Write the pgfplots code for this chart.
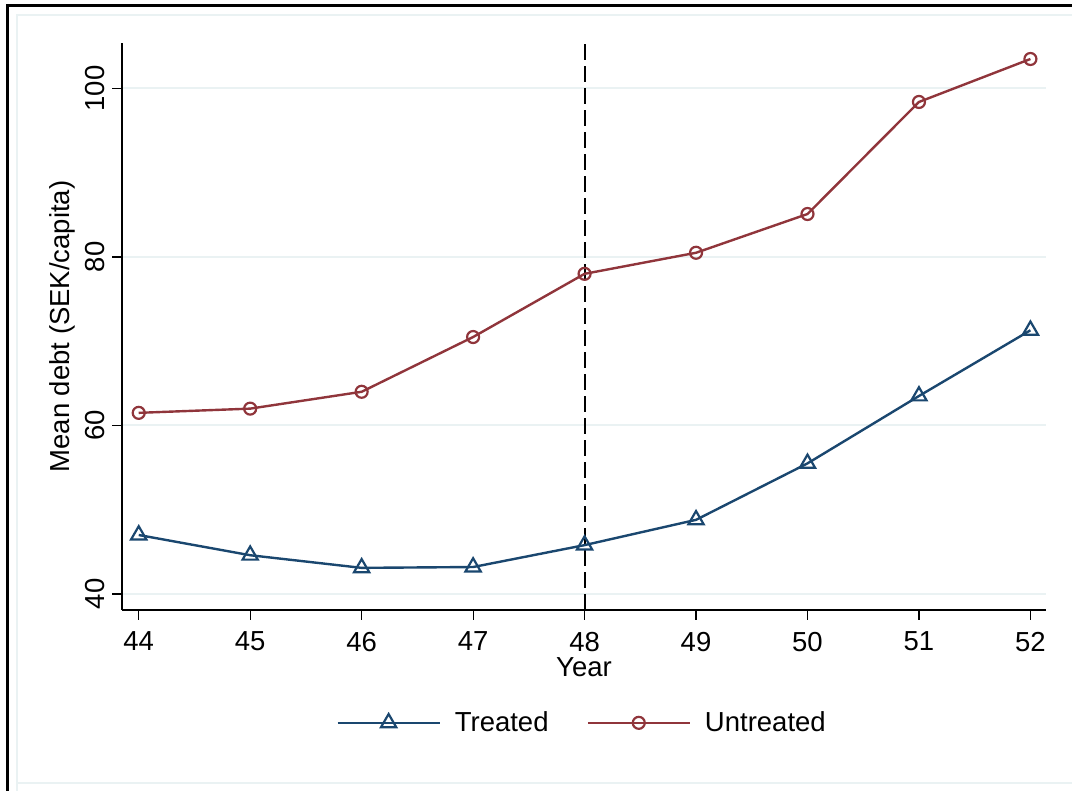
\documentclass[border=0pt]{standalone}
\usepackage{pgfplots}
\pgfplotsset{compat=1.18}
\usepackage{fontspec}
\setmainfont{Liberation Sans}
\definecolor{stnavy}{RGB}{26,71,111}
\definecolor{stmaroon}{RGB}{144,53,59}
\definecolor{stgrid}{RGB}{234,242,243}
\begin{document}
\begin{tikzpicture}[font=\fontsize{13.75}{16}\selectfont]
\useasboundingbox (0,0) rectangle (536pt,395.5pt);
\clip (0,0) rectangle (536pt,395.5pt);
\draw[stgrid, line width=1pt] (8.5pt,-5pt) -- (8.5pt,388pt) -- (545pt,388pt);
\draw[stgrid, line width=1pt] (8.5pt,4pt) -- (545pt,4pt);
\draw[black, line width=1.5pt] (3.5pt,-5pt) -- (3.5pt,392.75pt) -- (545pt,392.75pt);
\begin{axis}[
  at={(61pt,90.5pt)}, anchor=south west,
  scale only axis, width=462pt, height=283.5pt,
  xmin=43.85, xmax=52.14, ymin=38.1, ymax=105.4,
  axis lines*=left,
  axis line style={line width=0.6pt},
  xtick={44,45,...,52}, ytick={40,60,80,100},
  tick align=outside, major tick length=5pt,
  tick style={line width=0.6pt, black},
  xtick pos=bottom, ytick pos=left,
  ymajorgrids, grid style={stgrid, line width=1pt},
  /pgf/number format/assume math mode=true,
  tick label style={font=\fontsize{13.75}{16}\selectfont},
  xticklabel style={yshift=-2.5pt},
  yticklabel style={rotate=90, anchor=south},
  xlabel={Year}, ylabel={Mean debt (SEK/capita)},
  label style={font=\fontsize{13.75}{16}\selectfont},
  x label style={at={(axis description cs:0.5,-0.101)}, anchor=center},
  y label style={at={(axis description cs:-0.065,0.5)}, anchor=center},
  legend columns=2,
  legend style={draw=none, fill=none, at={(axis description cs:0.499,-0.199)}, anchor=center,
    font=\fontsize{13.75}{16}\selectfont,
    /tikz/every odd column/.append style={column sep=5pt},
    /tikz/every even column/.append style={column sep=17pt}},
  legend cell align=left,
  legend image code/.code={\draw[mark repeat=2,mark phase=2,#1] plot coordinates {(0pt,0pt) (25.5pt,0pt) (51pt,0pt)};},
]
\addplot[black, line width=1pt, dash pattern=on 8pt off 3pt, forget plot] coordinates {(48,38.1) (48,105.4)};
\addplot[stnavy, line width=1.2pt, mark=triangle, mark size=4.4pt, mark options={solid, line width=1.1pt}] coordinates {
(44,47.0) (45,44.6) (46,43.1) (47,43.2) (48,45.8) (49,48.8) (50,55.5) (51,63.5) (52,71.3)};
\addlegendentry{Treated}
\addplot[stmaroon, line width=1.2pt, mark=o, mark size=3pt, mark options={solid, line width=1.1pt}] coordinates {
(44,61.5) (45,62.0) (46,64.0) (47,70.5) (48,78.0) (49,80.5) (50,85.1) (51,98.4) (52,103.5)};
\addlegendentry{Untreated}
\end{axis}
\end{tikzpicture}
\end{document}
